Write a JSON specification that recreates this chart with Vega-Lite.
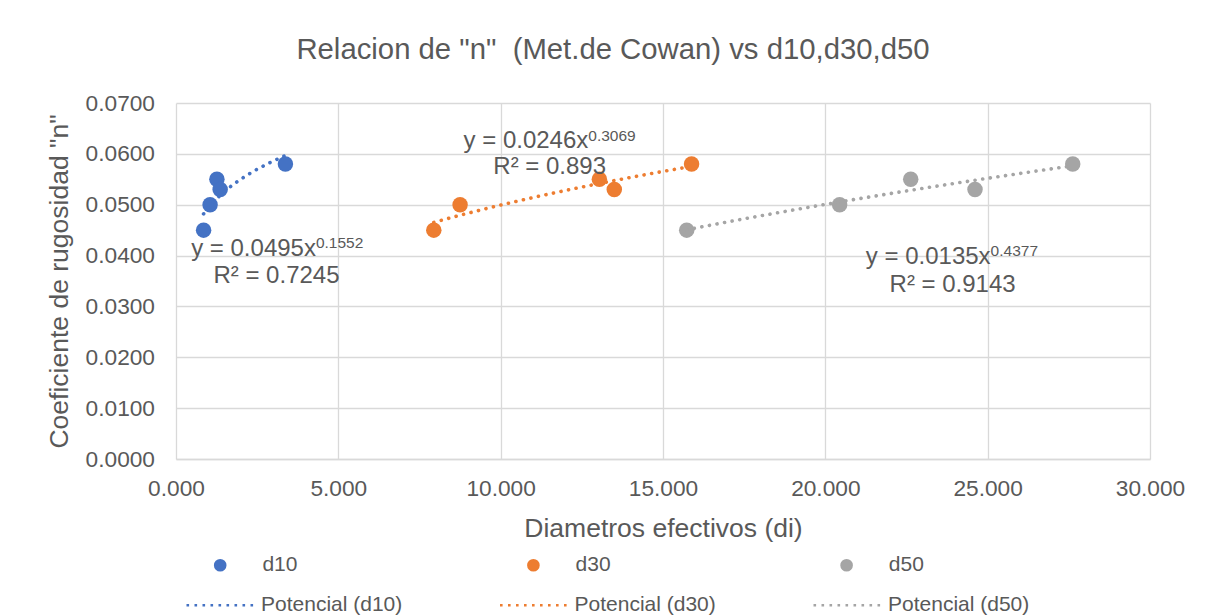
{
  "$schema": "https://vega.github.io/schema/vega-lite/v6.json",
  "autosize": "none",
  "width": 974,
  "height": 356,
  "padding": {"left": 176, "top": 103, "right": 63, "bottom": 156},
  "background": "white",
  "title": {
    "text": "Relacion de \"n\"\u00a0 (Met.de Cowan) vs d10,d30,d50",
    "font": "Liberation Sans",
    "fontSize": 29.3,
    "fontWeight": "normal",
    "color": "#595959",
    "anchor": "middle",
    "dx": -50,
    "baseline": "alphabetic",
    "offset": 4
  },
  "config": {
    "font": "Liberation Sans",
    "view": {"stroke": null},
    "axis": {
      "labelFont": "Liberation Sans",
      "titleFont": "Liberation Sans",
      "labelColor": "#595959",
      "titleColor": "#595959",
      "titleFontWeight": "normal",
      "gridColor": "#d9d9d9",
      "gridWidth": 1.3,
      "gridOpacity": 1,
      "ticks": false
    },
    "legend": {
      "labelFont": "Liberation Sans",
      "labelColor": "#595959",
      "labelFontSize": 21
    }
  },
  "datasets": {
    "pts": [
      {"series": "d10", "d": 0.85, "n": 0.045},
      {"series": "d10", "d": 1.05, "n": 0.050},
      {"series": "d10", "d": 1.26, "n": 0.055},
      {"series": "d10", "d": 1.36, "n": 0.053},
      {"series": "d10", "d": 3.37, "n": 0.058},
      {"series": "d30", "d": 7.94, "n": 0.045},
      {"series": "d30", "d": 8.75, "n": 0.050},
      {"series": "d30", "d": 13.04, "n": 0.055},
      {"series": "d30", "d": 13.50, "n": 0.053},
      {"series": "d30", "d": 15.88, "n": 0.058},
      {"series": "d50", "d": 15.73, "n": 0.045},
      {"series": "d50", "d": 20.44, "n": 0.050},
      {"series": "d50", "d": 22.63, "n": 0.055},
      {"series": "d50", "d": 24.61, "n": 0.053},
      {"series": "d50", "d": 27.62, "n": 0.058}
    ],
    "eqs": [
      {"series": "d10", "ex": 4.31, "ey": 0.03997, "eq": "y = 0.0495x", "sup": "0.1552", "rx": 3.095, "ry": 0.03466, "r2": "R² = 0.7245"},
      {"series": "d30", "ex": 12.70, "ey": 0.06109, "eq": "y = 0.0246x", "sup": "0.3069", "rx": 11.51, "ry": 0.05604, "r2": "R² = 0.893"},
      {"series": "d50", "ex": 25.09, "ey": 0.03834, "eq": "y = 0.0135x", "sup": "0.4377", "rx": 23.92, "ry": 0.03289, "r2": "R² = 0.9143"}
    ]
  },
  "resolve": {"scale": {"color": "independent"}, "legend": {"color": "independent"}},
  "layer": [
    {
      "data": {"name": "pts"},
      "mark": {"type": "point", "filled": true, "size": 240, "opacity": 1},
      "encoding": {
        "x": {
          "field": "d", "type": "quantitative",
          "scale": {"domain": [0, 30], "nice": false},
          "axis": {
            "title": "Diametros efectivos (di)",
            "values": [0, 5, 10, 15, 20, 25, 30],
            "format": ".3f",
            "labelFontSize": 22.7,
            "labelPadding": 18,
            "labelFlush": false,
            "labelOverlap": false,
            "titleFontSize": 26.5,
            "titlePadding": 16,
            "domain": true,
            "domainColor": "#d9d9d9",
            "domainWidth": 1.3
          }
        },
        "y": {
          "field": "n", "type": "quantitative",
          "scale": {"domain": [0, 0.07], "nice": false},
          "axis": {
            "title": "Coeficiente de rugosidad \"n\"",
            "values": [0, 0.01, 0.02, 0.03, 0.04, 0.05, 0.06, 0.07],
            "format": ".4f",
            "labelFontSize": 22.7,
            "labelPadding": 21.5,
            "labelOverlap": false,
            "titleFontSize": 26.5,
            "titlePadding": 12,
            "domain": false
          }
        },
        "color": {
          "field": "series", "type": "nominal",
          "scale": {"domain": ["d10", "d30", "d50"], "range": ["#4472C4", "#ED7D31", "#A5A5A5"]},
          "legend": {
            "title": null,
            "orient": "none",
            "legendX": 33.7,
            "legendY": 451.5,
            "direction": "horizontal",
            "columns": 3,
            "columnPadding": 225.2,
            "symbolType": "circle",
            "symbolSize": 160,
            "symbolStrokeWidth": 0,
            "labelOffset": 31.7
          }
        }
      }
    },
    {
      "data": {"name": "pts"},
      "transform": [
        {"regression": "n", "on": "d", "groupby": ["series"], "method": "pow"}
      ],
      "mark": {"type": "line", "strokeDash": [0.1, 7.6], "strokeCap": "round", "strokeWidth": 3.6},
      "encoding": {
        "x": {"field": "d", "type": "quantitative", "scale": {"domain": [0, 30], "nice": false}},
        "y": {"field": "n", "type": "quantitative", "scale": {"domain": [0, 0.07], "nice": false}},
        "color": {
          "field": "series", "type": "nominal",
          "scale": {"domain": ["d10", "d30", "d50"], "range": ["#4472C4", "#ED7D31", "#A5A5A5"]},
          "legend": {
            "title": null,
            "orient": "none",
            "legendX": 9,
            "legendY": 465.5,
            "direction": "horizontal",
            "columns": 3,
            "columnPadding": 91.5,
            "symbolType": "stroke",
            "symbolSize": 4900,
            "symbolStrokeWidth": 2.6,
            "symbolDash": [2.6, 5.4],
            "labelOffset": 3,
            "labelExpr": "'Potencial (' + datum.label + ')'"
          }
        }
      }
    },
    {
      "data": {"name": "eqs"},
      "mark": {"type": "text", "align": "right", "baseline": "alphabetic", "fontSize": 24, "color": "#595959", "font": "Liberation Sans"},
      "encoding": {
        "x": {"field": "ex", "type": "quantitative", "scale": {"domain": [0, 30], "nice": false}},
        "y": {"field": "ey", "type": "quantitative", "scale": {"domain": [0, 0.07], "nice": false}},
        "text": {"field": "eq"}
      }
    },
    {
      "data": {"name": "eqs"},
      "mark": {"type": "text", "align": "left", "baseline": "alphabetic", "fontSize": 15.5, "dy": -7.6, "color": "#595959", "font": "Liberation Sans"},
      "encoding": {
        "x": {"field": "ex", "type": "quantitative", "scale": {"domain": [0, 30], "nice": false}},
        "y": {"field": "ey", "type": "quantitative", "scale": {"domain": [0, 0.07], "nice": false}},
        "text": {"field": "sup"}
      }
    },
    {
      "data": {"name": "eqs"},
      "mark": {"type": "text", "align": "center", "baseline": "alphabetic", "fontSize": 24, "color": "#595959", "font": "Liberation Sans"},
      "encoding": {
        "x": {"field": "rx", "type": "quantitative", "scale": {"domain": [0, 30], "nice": false}},
        "y": {"field": "ry", "type": "quantitative", "scale": {"domain": [0, 0.07], "nice": false}},
        "text": {"field": "r2"}
      }
    }
  ]
}
